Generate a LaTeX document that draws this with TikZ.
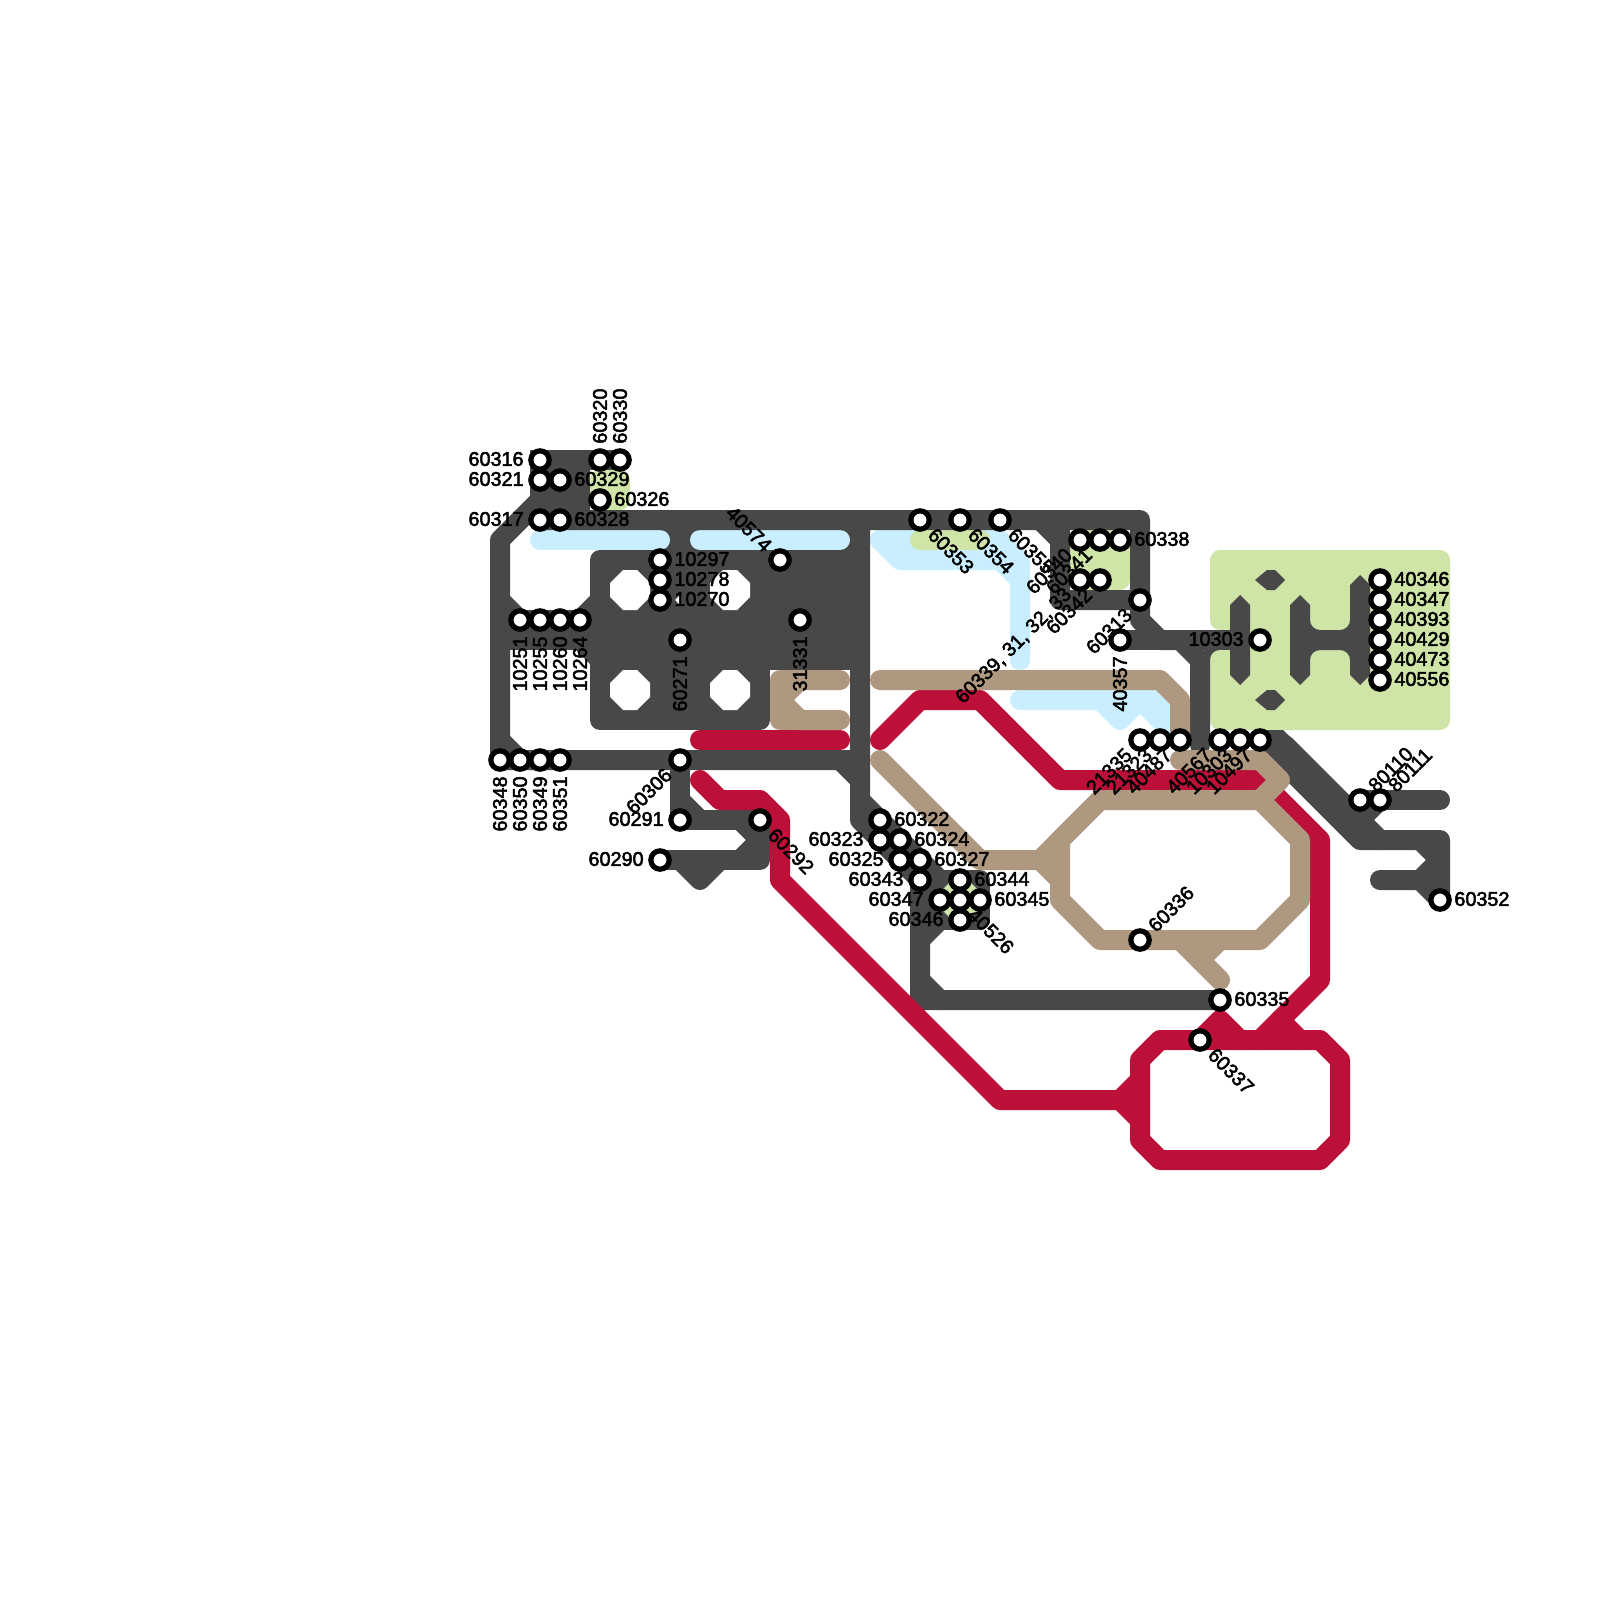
\documentclass[tikz,border=0pt]{standalone}
\usepackage{fontspec}
\setmainfont[FakeBold=2.5]{Liberation Sans}
\definecolor{dk}{HTML}{484848}
\definecolor{tn}{HTML}{AE9880}
\definecolor{rd}{HTML}{BC1038}
\definecolor{bl}{HTML}{C9EEFF}
\definecolor{gn}{HTML}{CFE4A7}
\tikzset{
 ln/.style={line width=10pt,line cap=round,line join=round},
 dkl/.style={ln,draw=dk}, tnl/.style={ln,draw=tn}, rdl/.style={ln,draw=rd}, bll/.style={ln,draw=bl}, gnl/.style={ln,draw=gn},
 hole/.style={fill=white},
 stn/.style={circle,draw=black,fill=white,line width=2.6pt,minimum size=9.2pt,inner sep=0pt,outer sep=0pt},
 lb/.style={font=\fontsize{9.9pt}{10pt}\selectfont,inner sep=0pt,text=black},
 lr/.style={lb,anchor=west,xshift=7pt,yshift=.5pt},
 ll/.style={lb,anchor=east,xshift=-8pt,yshift=.5pt},
 ld/.style={lb,rotate=90,anchor=east,xshift=-8pt},
 lu/.style={lb,rotate=90,anchor=west,xshift=8pt},
 ldl/.style={lb,rotate=45,anchor=east,xshift=-8pt},
 lur/.style={lb,rotate=45,anchor=west,xshift=8pt},
 ldr/.style={lb,rotate=-45,anchor=west,xshift=8pt},
 lul/.style={lb,rotate=-45,anchor=east,xshift=-8pt},
}
\newcommand{\octhole}[2]{\fill[hole] (#1-20,#2-7) -- (#1-7,#2-20) -- (#1+7,#2-20) -- (#1+20,#2-7) -- (#1+20,#2+7) -- (#1+7,#2+20) -- (#1-7,#2+20) -- (#1-20,#2+7) -- cycle;}
\newcommand{\stnl}[4]{\node[stn] (s#1) at (#2,#3) {}; \node[#4] (t#1) at (s#1.center) {#1};}
\begin{document}
\begin{tikzpicture}[x=0.5pt,y=-0.5pt]
\useasboundingbox (0,0) rectangle (1600,1600);
% green
\draw[gnl,fill=gn] (600,480) -- (620,480) -- (620,500) -- (600,500) -- cycle;
\fill[dk] (660,530) rectangle (700,550);
\fill[dk] (840,530) rectangle (860,550);
\draw[bll] (540,540) -- (660,540);
\draw[bll] (700,540) -- (840,540);
\draw[bll] (880,540) -- (1000,540) -- (1020,560) -- (1020,660);
\draw[bll] (880,540) -- (900,560) -- (1000,560) -- (1020,580) -- (1020,660);
\draw[gnl] (920,540) -- (980,540);
\draw[bll] (1020,700) -- (1154,700) -- (1174,720) -- (1180,740);
\draw[bll] (1100,700) -- (1120,720) -- (1140,700) -- (1180,740);
\fill[bl] (1140,700) -- (1170,700) -- (1170,740) -- (1160,730) -- cycle;
\draw[gnl,fill=gn] (1080,540) -- (1120,540) -- (1120,580) -- (1080,580) -- cycle;
\fill[dk] (1205,645) rectangle (1222,662);
\fill[gn,rounded corners=5pt] (1210,550) -- (1450,550) -- (1450,730) -- (1210,730) -- (1210,650) -- (1240,650) -- (1240,630) -- (1210,630) -- cycle;
% dark
\draw[dkl] (540,460) -- (620,460);
\fill[dk] (530,450) rectangle (590,510);
\draw[dkl] (540,460) -- (540,500) -- (500,540) -- (500,760) -- (860,760);
\draw[dkl] (540,520) -- (1140,520) -- (1140,620) -- (1160,640) -- (1180,640) -- (1200,660) -- (1200,745);
\draw[dkl] (500,740) -- (520,760);
\draw[dkl] (500,600) -- (520,620) -- (580,620) -- (600,600);
\draw[dkl] (500,620) -- (600,620);
\draw[dkl] (500,640) -- (600,640);
\draw[dkl] (580,640) -- (600,660);
\draw[dkl,fill=dk] (600,560) -- (860,560) -- (860,660) -- (760,660) -- (760,720) -- (600,720) -- cycle;
\octhole{630}{590}\octhole{730}{590}\octhole{630}{690}\octhole{730}{690}
\fill[hole] (675,600) -- (681,594) -- (681,606) -- cycle;
\draw[dkl] (860,520) -- (860,820) -- (920,880) -- (920,1000) -- (1220,1000);
\draw[dkl] (840,760) -- (860,780);
\draw[dkl] (860,800) -- (940,880);
\draw[dkl] (920,940) -- (940,920);
\draw[dkl] (920,980) -- (940,1000);
\draw[dkl,fill=dk] (940,880) -- (980,880) -- (980,920) -- (940,920) -- cycle;
\fill[gn] (960,872) -- (988,900) -- (960,928) -- (932,900) -- cycle;
\draw[dkl] (680,760) -- (680,820) -- (760,820) -- (760,860) -- (660,860);
\draw[dkl] (680,800) -- (700,820);
\draw[dkl] (740,820) -- (760,840) -- (740,860);
\draw[dkl] (680,860) -- (700,880) -- (720,860);
\draw[dkl] (1040,520) -- (1060,540) -- (1060,600) -- (1140,600);
\fill[dk] (1050,520) rectangle (1070,600);
\draw[dkl] (1120,640) -- (1240,640);
\fill[dk] (1240,595) -- (1250,605) -- (1250,675) -- (1240,685) -- (1230,675) -- (1230,605) -- cycle;
\fill[dk] (1300,595) -- (1310,605) [rounded corners=5pt] -- (1310,630) -- (1350,630) [sharp corners] -- (1350,585) -- (1360,575) -- (1370,585) -- (1370,675) -- (1360,685) -- (1350,675) [rounded corners=5pt] -- (1350,650) -- (1310,650) [sharp corners] -- (1310,675) -- (1300,685) -- (1290,675) -- (1290,605) -- cycle;
\fill[dk] (1255,580) -- (1267,570) -- (1275,570) -- (1285,580) -- (1275,590) -- (1267,590) -- cycle;
\fill[dk] (1255,700) -- (1267,690) -- (1275,690) -- (1285,700) -- (1275,710) -- (1267,710) -- cycle;
\fill[dk] (1255,730) -- (1283,730) -- (1310,757) -- (1280,765) -- (1255,750) -- cycle;
\draw[dkl] (1285,745) -- (1380,840);
\draw[dkl] (1265,745) -- (1360,840) -- (1440,840) -- (1440,900);
\draw[dkl] (1380,800) -- (1360,820);
\draw[dkl] (1360,800) -- (1440,800);
\draw[dkl] (1380,880) -- (1420,880) -- (1440,860);
\draw[dkl] (1420,880) -- (1440,900);
\draw[dkl] (1420,840) -- (1440,860);
% red
\draw[rdl] (700,740) -- (840,740);
\draw[rdl] (880,740) -- (920,700) -- (980,700) -- (1060,780) -- (1260,780) -- (1320,840) -- (1320,980) -- (1260,1040);
\draw[rdl] (700,780) -- (720,800) -- (760,800) -- (780,820) -- (780,880) -- (1000,1100) -- (1120,1100);
\draw[rdl] (1160,1040) -- (1320,1040) -- (1340,1060) -- (1340,1140) -- (1320,1160) -- (1160,1160) -- (1140,1140) -- (1140,1060) -- cycle;
\draw[rdl] (1120,1100) -- (1140,1080);
\draw[rdl] (1120,1100) -- (1140,1120);
\draw[rdl] (1280,1020) -- (1300,1040);
\draw[rdl] (1200,1040) -- (1220,1020) -- (1240,1040);
% tan
\draw[tnl] (840,680) -- (800,680) -- (780,700) -- (800,720) -- (840,720);
\draw[tnl] (800,680) -- (780,680) -- (780,720) -- (800,720);
\draw[tnl] (880,680) -- (1160,680) -- (1180,700) -- (1180,740);
\draw[tnl] (880,760) -- (980,860) -- (1040,860);
\draw[tnl] (1100,800) -- (1260,800) -- (1300,840) -- (1300,900) -- (1260,940) -- (1100,940) -- (1060,900) -- (1060,840) -- cycle;
\draw[tnl] (1040,860) -- (1100,800);
\draw[tnl] (1040,860) -- (1060,880);
\draw[tnl] (1180,760) -- (1260,760) -- (1280,780) -- (1260,800);
\draw[tnl] (1180,940) -- (1220,980);
\draw[tnl] (1220,940) -- (1200,960);
% stations
\stnl{60316}{540}{460}{ll}
\stnl{60321}{540}{480}{ll}
\stnl{60317}{540}{520}{ll}
\stnl{60329}{560}{480}{lr}
\stnl{60328}{560}{520}{lr}
\stnl{60326}{600}{500}{lr}
\stnl{60320}{600}{460}{lu}
\stnl{60330}{620}{460}{lu}
\stnl{10297}{660}{560}{lr}
\stnl{10278}{660}{580}{lr}
\stnl{10270}{660}{600}{lr}
\stnl{40574}{780}{560}{lul}
\stnl{31331}{800}{620}{ld}
\stnl{60271}{680}{640}{ld}
\stnl{10251}{520}{620}{ld}
\stnl{10255}{540}{620}{ld}
\stnl{10260}{560}{620}{ld}
\stnl{10264}{580}{620}{ld}
\stnl{60348}{500}{760}{ld}
\stnl{60350}{520}{760}{ld}
\stnl{60349}{540}{760}{ld}
\stnl{60351}{560}{760}{ld}
\stnl{60306}{680}{760}{ldl}
\stnl{60291}{680}{820}{ll}
\stnl{60290}{660}{860}{ll}
\stnl{60292}{760}{820}{ldr}
\stnl{60353}{920}{520}{ldr}
\stnl{60354}{960}{520}{ldr}
\stnl{60355}{1000}{520}{ldr}
\stnl{60340}{1080}{540}{ldl}
\stnl{60341}{1100}{540}{ldl}
\stnl{60338}{1120}{540}{lr}
\node[stn] (s60339) at (1080,580) {};
\node[ldl] (t60339) at (s60339.center) {60339, 31, 32, 33};
\stnl{60342}{1100}{580}{ldl}
\stnl{60313}{1140}{600}{ldl}
\stnl{40357}{1120}{640}{ld}
\stnl{10303}{1260}{640}{ll}
\stnl{21335}{1140}{740}{ldl}
\stnl{21323}{1160}{740}{ldl}
\stnl{40487}{1180}{740}{ldl}
\stnl{40567}{1220}{740}{ldl}
\node[stn] (s10303b) at (1240,740) {};
\node[ldl] (t10303b) at (s10303b.center) {10303};
\stnl{10497}{1260}{740}{ldl}
\stnl{40346}{1380}{580}{lr}
\stnl{40347}{1380}{600}{lr}
\stnl{40393}{1380}{620}{lr}
\stnl{40429}{1380}{640}{lr}
\stnl{40473}{1380}{660}{lr}
\stnl{40556}{1380}{680}{lr}
\stnl{80110}{1360}{800}{lur}
\stnl{80111}{1380}{800}{lur}
\stnl{60352}{1440}{900}{lr}
\stnl{60322}{880}{820}{lr}
\stnl{60323}{880}{840}{ll}
\stnl{60324}{900}{840}{lr}
\stnl{60325}{900}{860}{ll}
\stnl{60327}{920}{860}{lr}
\stnl{60343}{920}{880}{ll}
\stnl{60344}{960}{880}{lr}
\stnl{60347}{940}{900}{ll}
\stnl{40526}{960}{900}{ldr}
\stnl{60345}{980}{900}{lr}
\stnl{60346}{960}{920}{ll}
\stnl{60336}{1140}{940}{lur}
\stnl{60335}{1220}{1000}{lr}
\stnl{60337}{1200}{1040}{ldr}
\end{tikzpicture}
\end{document}
